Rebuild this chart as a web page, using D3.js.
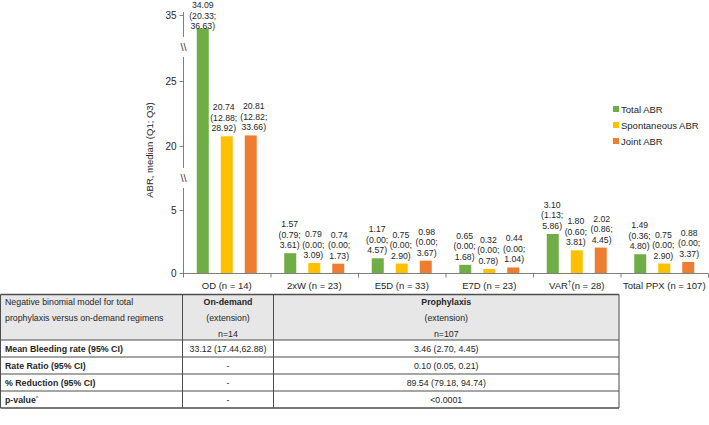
<!DOCTYPE html>
<html><head><meta charset="utf-8">
<script src="https://cdn.jsdelivr.net/npm/d3@7"></script>
<style>
html,body{margin:0;padding:0;background:#fff;}
svg{display:block;font-family:"Liberation Sans",Arial,sans-serif;}
</style></head>
<body>
<svg id="chart" width="709" height="425"></svg>
<script>
const categories = ["OD (n = 14)", "2xW (n = 23)", "E5D (n = 33)", "E7D (n = 23)", "VAR\u2020(n = 28)", "Total PPX (n = 107)"];
const seriesNames = ["Total ABR", "Spontaneous ABR", "Joint ABR"];
const totalABR = [34.09, 1.57, 1.17, 0.65, 3.10, 1.49];
const totalQ = [[20.33, 36.63], [0.79, 3.61], [0.00, 4.57], [0.00, 1.68], [1.13, 5.86], [0.36, 4.80]];
const spontABR = [20.74, 0.79, 0.75, 0.32, 1.80, 0.75];
const spontQ = [[12.88, 28.92], [0.00, 3.09], [0.00, 2.90], [0.00, 0.78], [0.60, 3.81], [0.00, 2.90]];
const jointABR = [20.81, 0.74, 0.98, 0.44, 2.02, 0.88];
const jointQ = [[12.82, 33.66], [0.00, 1.73], [0.00, 3.67], [0.00, 1.04], [0.86, 4.45], [0.00, 3.37]];
const yTicks = [0, 5, 20, 25, 35];
const yLabel = "ABR, median (Q1; Q3)";

const tableHeader = [
  ["Negative binomial model for total", "prophylaxis versus on-demand regimens"],
  ["On-demand", "(extension)", "n=14"],
  ["Prophylaxis", "(extension)", "n=107"]
];
const tableRowLabels = ["Mean Bleeding rate (95% CI)", "Rate Ratio (95% CI)", "% Reduction (95% CI)", "p-value"];
const onDemandValues = ["33.12 (17.44,62.88)", "-", "-", "-"];
const prophylaxisValues = ["3.46 (2.70, 4.45)", "0.10 (0.05, 0.21)", "89.54 (79.18, 94.74)", "<0.0001"];

const colors = ["#70ad47", "#ffc000", "#ed7d31"];
const textColor = "#262626";
const svg = d3.select("#chart");

// Broken (piecewise) y scale
const yBreakDomain = [0, 6.75, 18.3, 26.85, 33.5, 35.2];
const y = d3.scaleLinear().domain(yBreakDomain).range([273, 188, 168, 57, 37, 12]);
const x0 = d3.scaleBand().domain(categories).range([183, 708]).paddingInner(0);
const x1 = d3.scaleBand().domain(seriesNames).range([-36, 36]).padding(0).paddingInner(0);
const barW = 12;

const seriesData = [
  {name: seriesNames[0], vals: totalABR, q: totalQ},
  {name: seriesNames[1], vals: spontABR, q: spontQ},
  {name: seriesNames[2], vals: jointABR, q: jointQ}
];

// Y axis segments
const segs = [[0, 1], [2, 3], [4, 5]];
svg.append("g").selectAll("line").data(segs).join("line")
  .attr("x1", 183.5).attr("x2", 183.5)
  .attr("y1", d => y(yBreakDomain[d[0]])).attr("y2", d => y(yBreakDomain[d[1]]))
  .attr("stroke", "#7f7f7f").attr("stroke-width", 1);
// break marks
[[yBreakDomain[3], yBreakDomain[4]], [yBreakDomain[1], yBreakDomain[2]]].forEach(b => {
  const yc = (y(b[0]) + y(b[1])) / 2;
  svg.append("text").attr("x", 183.5).attr("y", yc + 4).attr("text-anchor", "middle")
    .attr("font-size", 11).attr("fill", "#404040").text("\\\\");
});
const yAx = svg.append("g").attr("transform", "translate(183.5,0)")
  .call(d3.axisLeft(y).tickValues(yTicks).tickSize(4).tickPadding(3).tickFormat(d3.format("d")));
yAx.select(".domain").remove();
yAx.selectAll("line").attr("stroke", "#7f7f7f");
yAx.selectAll("text").attr("font-size", 10).attr("fill", textColor).attr("font-family", "Liberation Sans, Arial, sans-serif");

svg.append("text").attr("transform", "translate(153,150) rotate(-90)")
  .attr("text-anchor", "middle").attr("font-size", 9.5).attr("fill", textColor).text(yLabel);

// X axis
svg.append("line").attr("x1", 183).attr("x2", 708).attr("y1", 273.5).attr("y2", 273.5).attr("stroke", "#7f7f7f");
const bounds = categories.map(c => x0(c)).concat([x0.range()[1]]);
svg.append("g").selectAll("line").data(bounds).join("line")
  .attr("x1", d => d + 0.5).attr("x2", d => d + 0.5).attr("y1", 273.5).attr("y2", 277.5).attr("stroke", "#7f7f7f");
const xl = svg.append("g").selectAll("text").data(categories).join("text")
  .attr("x", d => x0(d) + x0.bandwidth() / 2).attr("y", 289)
  .attr("text-anchor", "middle").attr("font-size", 9.5).attr("fill", textColor);
xl.each(function(d) {
  const t = d3.select(this);
  if (d.includes("\u2020")) {
    const parts = d.split("\u2020");
    t.append("tspan").text(parts[0]);
    t.append("tspan").attr("dy", -4).attr("font-size", 6.5).text("\u2020");
    t.append("tspan").attr("dy", 4).text(parts[1]);
  } else t.text(d);
});

// Bars
const gBars = svg.append("g");
const labelNodes = categories.map(() => []);
seriesData.forEach((s, si) => {
  const cx = c => x0(c) + x0.bandwidth() / 2 + x1(s.name) + x1.bandwidth() / 2;
  gBars.selectAll(".b" + si).data(categories).join("rect")
    .attr("x", c => cx(c) - barW / 2)
    .attr("width", barW)
    .attr("y", (c, i) => y(s.vals[i]))
    .attr("height", (c, i) => y(0) - y(s.vals[i]))
    .attr("fill", colors[si]);
  const lab = gBars.selectAll(".l" + si).data(categories).join("text")
    .attr("text-anchor", "middle").attr("font-size", 8.7).attr("fill", textColor);
  lab.each(function(c, i) {
    const lines = [s.vals[i].toFixed(2), "(" + s.q[i][0].toFixed(2) + ";", s.q[i][1].toFixed(2) + ")"];
    let base = y(s.vals[i]) - 5;
    base = Math.max(base, 29);
    const t = d3.select(this);
    lines.forEach((ln, k) => {
      t.append("tspan").attr("x", cx(c)).attr("y", base - (2 - k) * 10.5).text(ln);
    });
    labelNodes[i][si] = {node: this, cx: cx(c)};
  });
});
// nudge overlapping neighbour labels apart
labelNodes.forEach(group => {
  for (let k = 0; k < group.length - 1; k++) {
    const a = group[k], b = group[k + 1];
    const ba = a.node.getBBox(), bb = b.node.getBBox();
    const vOverlap = ba.y < bb.y + bb.height && bb.y < ba.y + ba.height;
    const hOverlap = (ba.x + ba.width + 3) - bb.x;
    if (vOverlap && hOverlap > 0) {
      const sh = hOverlap / 2;
      d3.select(a.node).selectAll("tspan").attr("x", a.cx - sh);
      d3.select(b.node).selectAll("tspan").attr("x", b.cx + sh);
    }
  }
});

// Legend
const lg = svg.append("g").attr("transform", "translate(613,109)");
seriesNames.forEach((n, i) => {
  lg.append("rect").attr("x", 0).attr("y", i * 16 - 3).attr("width", 6).attr("height", 6).attr("fill", colors[i]);
  lg.append("text").attr("x", 8).attr("y", i * 16 + 3.5).attr("font-size", 9.5).attr("fill", textColor).text(n);
});

// Table
const colX = [0.5, 182.5, 273.5, 619];
const rowY = [294.5, 340, 357, 374, 391, 408];
const tb = svg.append("g");
tb.append("rect").attr("x", colX[0]).attr("y", rowY[0]).attr("width", colX[3] - colX[0]).attr("height", rowY[1] - rowY[0]).attr("fill", "#e7e7e7");
const lineColor = "#4d4d4d";
rowY.forEach((yy, i) => {
  tb.append("line").attr("x1", colX[0]).attr("x2", colX[3]).attr("y1", yy).attr("y2", yy)
    .attr("stroke", lineColor).attr("stroke-width", (i === 0 || i === rowY.length - 1) ? 1.3 : 1);
});
colX.forEach(xx => {
  tb.append("line").attr("x1", xx).attr("x2", xx).attr("y1", rowY[0]).attr("y2", rowY[rowY.length - 1])
    .attr("stroke", lineColor).attr("stroke-width", 1);
});
const fs = 8.8;
tableHeader[0].forEach((t, k) => {
  tb.append("text").attr("x", 5).attr("y", 305 + k * 16).attr("font-size", fs).attr("fill", textColor).text(t);
});
[1, 2].forEach(ci => {
  const cxm = (colX[ci] + colX[ci + 1]) / 2;
  tableHeader[ci].forEach((t, k) => {
    tb.append("text").attr("x", cxm).attr("y", 305 + k * 16).attr("text-anchor", "middle")
      .attr("font-size", fs).attr("font-weight", k === 0 ? "bold" : "normal").attr("fill", textColor).text(t);
  });
});
tableRowLabels.forEach((t, r) => {
  const ym = (rowY[r + 1] + rowY[r + 2]) / 2 + 3.2;
  const tx = tb.append("text").attr("x", 5).attr("y", ym).attr("font-size", fs).attr("font-weight", "bold").attr("fill", textColor).text(t);
  if (t === "p-value") tx.append("tspan").attr("dy", -3).attr("font-size", 6).attr("font-weight", "normal").text("*");
  tb.append("text").attr("x", (colX[1] + colX[2]) / 2).attr("y", ym).attr("text-anchor", "middle").attr("font-size", fs).attr("fill", textColor).text(onDemandValues[r]);
  tb.append("text").attr("x", (colX[2] + colX[3]) / 2).attr("y", ym).attr("text-anchor", "middle").attr("font-size", fs).attr("fill", textColor).text(prophylaxisValues[r]);
});
</script>
</body></html>
